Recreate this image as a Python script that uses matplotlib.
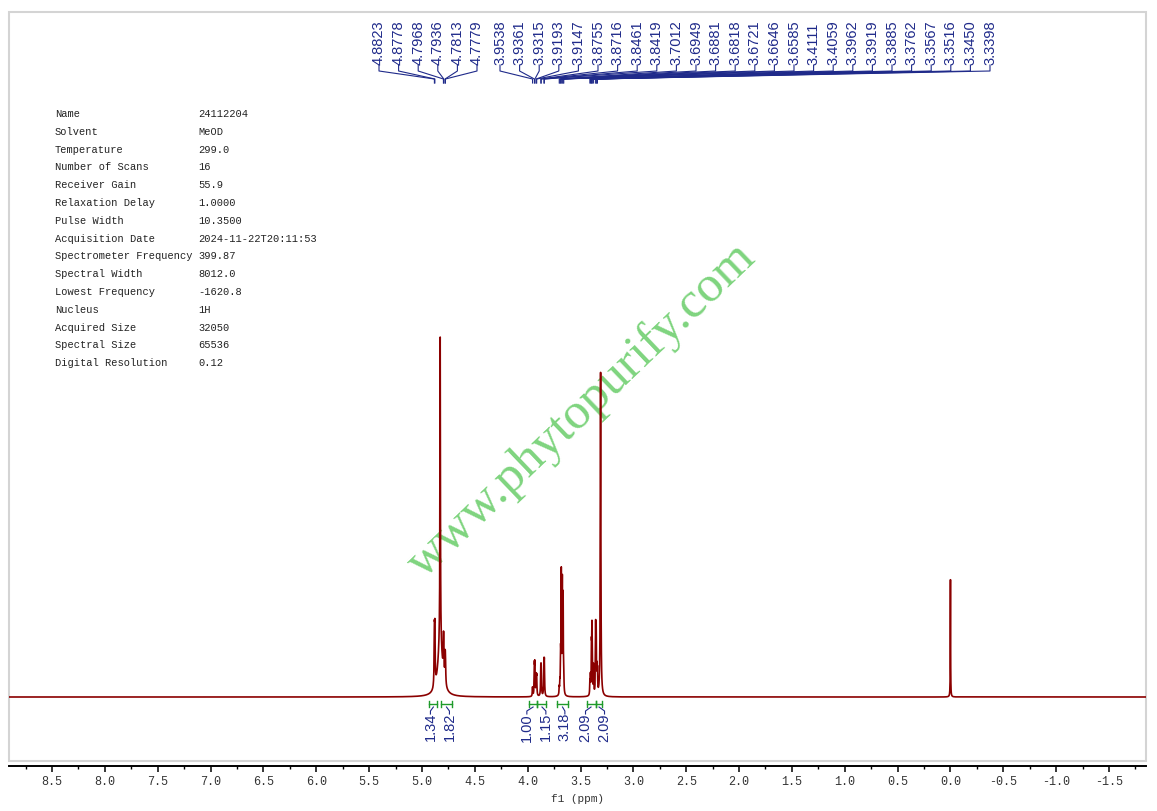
import numpy as np
import matplotlib
matplotlib.use('Agg')
import matplotlib.pyplot as plt
from matplotlib.patches import Rectangle

# peaks: position (ppm), height (tallest = 1), half width (ppm)
peak_ppm = [4.8823, 4.8778, 4.8276, 4.8276, 4.7968, 4.7936, 4.7813, 4.7779,
            3.9538, 3.9361, 3.9315, 3.9193, 3.9147, 3.8755, 3.8716, 3.8461, 3.8419,
            3.7012, 3.6949, 3.6881, 3.6818, 3.6721, 3.6646, 3.6585,
            3.4111, 3.4059, 3.3962, 3.3919, 3.3885, 3.3762, 3.3567, 3.3516, 3.3450, 3.3398,
            3.3100, 0.0]
peak_height = [0.14, 0.14, 0.85, 0.15, 0.075, 0.075, 0.06, 0.06,
               0.025, 0.08, 0.08, 0.05, 0.05, 0.07, 0.07, 0.085, 0.085,
               0.02, 0.03, 0.10, 0.33, 0.30, 0.26, 0.05,
               0.035, 0.05, 0.12, 0.15, 0.11, 0.08, 0.18, 0.16, 0.06, 0.06,
               0.90, 0.327]
peak_width = [0.003, 0.003, 0.0025, 0.025, 0.003, 0.003, 0.003, 0.003,
              0.0025, 0.0025, 0.0025, 0.0025, 0.0025, 0.0025, 0.0025, 0.0025, 0.0025,
              0.0022, 0.0022, 0.0022, 0.0022, 0.0022, 0.0022, 0.0022,
              0.0022, 0.0022, 0.0022, 0.0022, 0.0022, 0.0022, 0.0022, 0.0022, 0.0022, 0.0022,
              0.003, 0.0015]

# peak picking labels
label_ppm = [4.8823, 4.8778, 4.7968, 4.7936, 4.7813, 4.7779,
             3.9538, 3.9361, 3.9315, 3.9193, 3.9147, 3.8755, 3.8716, 3.8461, 3.8419,
             3.7012, 3.6949, 3.6881, 3.6818, 3.6721, 3.6646, 3.6585,
             3.4111, 3.4059, 3.3962, 3.3919, 3.3885, 3.3762, 3.3567, 3.3516, 3.3450, 3.3398]
label_groups = [6, 26]

# integrals
integral_start = [4.93, 4.816, 3.99, 3.907, 3.718, 3.443, 3.358]
integral_end = [4.854, 4.72, 3.907, 3.822, 3.623, 3.358, 3.292]
integral_value = [1.34, 1.82, 1.00, 1.15, 3.18, 2.09, 2.09]

param_names = ['Name', 'Solvent', 'Temperature', 'Number of Scans', 'Receiver Gain',
               'Relaxation Delay', 'Pulse Width', 'Acquisition Date',
               'Spectrometer Frequency', 'Spectral Width', 'Lowest Frequency',
               'Nucleus', 'Acquired Size', 'Spectral Size', 'Digital Resolution']
param_values = ['24112204', 'MeOD', '299.0', '16', '55.9', '1.0000', '10.3500',
                '2024-11-22T20:11:53', '399.87', '8012.0', '-1620.8', '1H',
                '32050', '65536', '0.12']

W, H = 1157, 811
X_LEFT, X_RIGHT = 8.907, -1.85
navy = '#1f2a8a'
green = '#1e9a2a'

def px2ppm(px):
    return X_LEFT - (px - 9) / 1137 * (X_LEFT - X_RIGHT)

def py2y(py):
    return (697 - py) / 360.0

def spread(pos, gap):
    pos = list(pos)
    for _ in range(300):
        for i in range(len(pos) - 1):
            d = pos[i] - pos[i + 1]
            if d < gap:
                m = (gap - d) / 2
                pos[i] += m
                pos[i + 1] -= m
    return pos

fig = plt.figure(figsize=(W / 100, H / 100), dpi=100)
ax = fig.add_axes([9 / W, 50 / H, 1137 / W, 749 / H])
ax.set_xlim(X_LEFT, X_RIGHT)
ax.set_ylim(py2y(761), py2y(12))

# spectrum
x = np.linspace(X_RIGHT, X_LEFT, 30000)
y = np.zeros_like(x)
for p, h, w in zip(peak_ppm, peak_height, peak_width):
    y += h / (1 + ((x - p) / w) ** 2)
ax.plot(x, y, color='#8b0000', lw=1.2, zorder=3)

# watermark
ax.text(0.504, 0.4686, 'www.phytopurify.com', transform=ax.transAxes, rotation=43.7,
        ha='center', va='center', fontsize=37, family='Liberation Serif',
        color='#7ed47e', zorder=2)

# peak labels on top
lab_px = []
start = [379, 500]
for g, n in enumerate(label_groups):
    for k in range(n):
        lab_px.append(start[g] + 19.6 * k)
for lp, pk in zip(lab_px, label_ppm):
    lx = px2ppm(lp)
    ax.text(lx, py2y(65), '%.4f' % pk, rotation=90, ha='center', va='bottom',
            fontsize=10.5, color=navy, family='Liberation Sans')
    ax.plot([lx, lx, pk, pk], [py2y(65), py2y(71), py2y(79), py2y(83)],
            color=navy, lw=0.8)

# integrals
centers = [(s + e) / 2 for s, e in zip(integral_start, integral_end)]
int_lab = spread(centers, 19 / 105.65)
for s, e, v, c, lx in zip(integral_start, integral_end, integral_value, centers, int_lab):
    ax.plot([s, e], [py2y(704)] * 2, color=green, lw=1)
    ax.plot([s, s], [py2y(701), py2y(707)], color=green, lw=1)
    ax.plot([e, e], [py2y(701), py2y(707)], color=green, lw=1)
    ax.plot([lx, lx, c], [py2y(714), py2y(711), py2y(707)], color=navy, lw=0.8)
    ax.text(lx, py2y(713), '%.2f' % v, rotation=90, ha='center', va='top',
            fontsize=10.5, color=navy, family='Liberation Sans')

# parameter table
for i, (n, v) in enumerate(zip(param_names, param_values)):
    yy = 1 - (114 + i * 17.8) / H
    fig.text(55 / W, yy, n, fontsize=7.5, family='Liberation Mono', va='center', color='#222222')
    fig.text(198 / W, yy, v, fontsize=7.5, family='Liberation Mono', va='center', color='#222222')

# frame and axis
for s in ['left', 'right', 'top']:
    ax.spines[s].set_visible(False)
ax.add_patch(Rectangle((0, 0), 1, 1, transform=ax.transAxes, fill=False,
                       edgecolor='#d4d4d4', lw=1.5, clip_on=False, zorder=1))
ax.spines['bottom'].set_position(('outward', 3.6))
ax.spines['bottom'].set_linewidth(1.4)
ax.set_yticks([])
ticks = np.arange(-1.5, 8.51, 0.5)
ax.set_xticks(ticks)
ax.set_xticklabels(['%.1f' % t for t in ticks], family='Liberation Mono', fontsize=8.5, color='#333333')
ax.set_xticks(np.arange(-1.75, 8.9, 0.5), minor=True)
ax.tick_params(axis='x', which='major', direction='out', length=4.3, width=1.1, pad=3)
ax.tick_params(axis='x', which='minor', direction='out', length=2.2, width=1.0)
ax.set_xlabel('f1 (ppm)', family='Liberation Mono', fontsize=8, labelpad=4, color='#333333')

fig.savefig('out.png', dpi=100)
